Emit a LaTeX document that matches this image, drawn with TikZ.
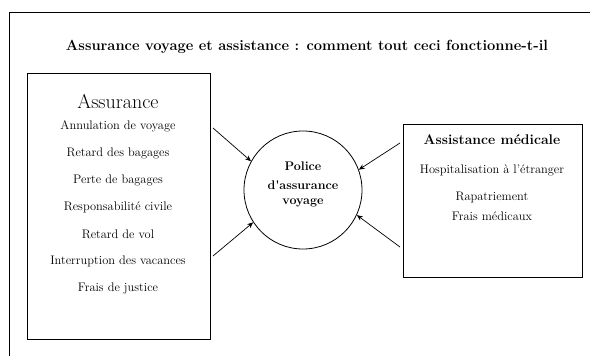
\documentclass[tikz,border=0pt]{standalone}
\usetikzlibrary{arrows.meta}
\begin{document}
\begin{tikzpicture}[x=1pt,y=-1pt,
  box/.style={draw,line width=0.8pt,inner sep=0pt,anchor=north west},
  item/.style={font=\fontsize{12.4}{14}\selectfont,inner sep=0pt},
  ptext/.style={font=\bfseries\fontsize{12.5}{14}\selectfont,inner sep=0pt},
  conn/.style={line width=0.7pt,-{Stealth[length=6pt,width=5pt]}},
  ]
\useasboundingbox (0,0) rectangle (590,356);
\draw[line width=0.8pt] (590,12) -- (9,12) -- (9,356);
\node[font=\bfseries\fontsize{14.7}{16}\selectfont,inner sep=0pt] (title) at (307,47) {Assurance voyage et assistance : comment tout ceci fonctionne-t-il};
% left box
\node[box,minimum width=183pt,minimum height=266pt] (lbox) at (27,73) {};
\node[font=\fontsize{20}{22}\selectfont,inner sep=0pt] (lhead) at (118,102) {Assurance};
\node[item] (l1) at (118,126) {Annulation de voyage};
\node[item] (l2) at (118,153) {Retard des bagages};
\node[item] (l3) at (118,180) {Perte de bagages};
\node[item] (l4) at (118,207) {Responsabilité civile};
\node[item] (l5) at (118,234) {Retard de vol};
\node[item] (l6) at (118,261) {Interruption des vacances};
\node[item] (l7) at (118,288) {Frais de justice};
% circle
\node[draw,circle,line width=0.8pt,minimum size=118pt,inner sep=0pt] (pol) at (303,190) {};
\node[ptext] (p1) at (303,166) {Police};
\node[ptext] (p2) at (303,185) {d\textquotesingle assurance};
\node[ptext] (p3) at (303,203) {voyage};
% right box
\node[box,minimum width=179pt,minimum height=153pt] (rbox) at (403,124) {};
\node[font=\bfseries\fontsize{14}{16}\selectfont,inner sep=0pt] (rhead) at (492,140) {Assistance médicale};
\node[item] (r1) at (492,170) {Hospitalisation à l'étranger};
\node[item] (r2) at (492,197) {Rapatriement};
\node[item] (r3) at (492,216) {Frais médicaux};
% connectors
\coordinate (a1) at (213,128);
\coordinate (a2) at (213,256);
\coordinate (b1) at (400,143);
\coordinate (b2) at (400,247);
\draw[conn] (a1) -- (pol.151);
\draw[conn] (a2) -- (pol.213);
\draw[conn] (b1) -- (pol.20);
\draw[conn] (b2) -- (pol.335);
\end{tikzpicture}
\end{document}
